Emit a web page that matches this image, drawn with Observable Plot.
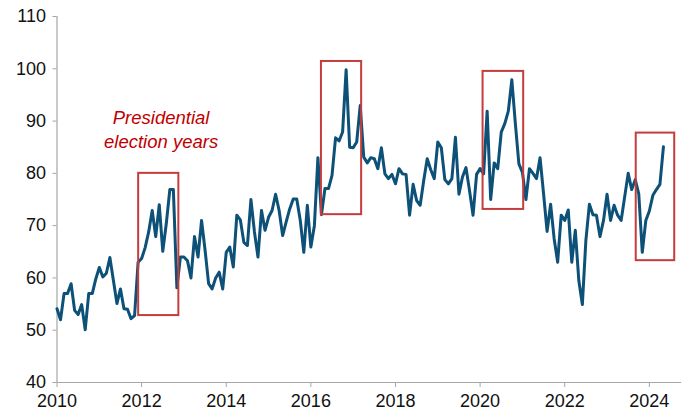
<!DOCTYPE html>
<html><head><meta charset="utf-8">
<script src="https://cdn.jsdelivr.net/npm/d3@7"></script>
<script src="https://cdn.jsdelivr.net/npm/@observablehq/plot@0.6"></script>
<style>
body{margin:0;background:#fff}
svg{display:block}
g[aria-label="x-axis tick"], g[aria-label="y-axis tick"]{stroke:#a6a6a6}
</style>
</head><body><div id="chart"></div>
<script>
const startYear = 2010;
const values = [
54.1,52,57,57,58.9,53.8,53,54.9,50.1,57,57,59.8,
62,60.2,60.9,63.9,59.5,55.1,57.9,54.1,54,52.2,52.8,63,
63.7,65.8,68.8,72.9,67.9,74,65.1,70.4,76.9,76.9,58.1,64,
64,63.3,60,67.9,64,71,65.3,58.9,57.9,60,61.1,57.9,
64.9,65.9,62.1,72,71.1,66.8,66.2,75,68.8,64,72.9,69.1,
71.6,72.9,76,72.9,68.1,70.7,73.2,75.1,75.1,71,64.9,73.9,
65.9,70,83,72.1,77.1,77.1,79.6,86.8,86.2,87.9,99.8,85,
84.9,86,93,83.1,82,83,82.8,80.9,84.9,79.9,79,79.8,
78,80.9,79.9,79.8,72,77.9,74.8,73.9,78.6,82.8,80.7,79,
86,84.9,78.8,78,79,86.9,76,79.3,81.1,76.7,72,79.8,
80.9,79.9,91.9,75,82,80.9,87.9,89.5,91.9,97.9,89.5,81.8,
80.2,75,80.9,80,79,83,76.1,68.9,74.1,67.5,63,72,
71,73,63,69.1,59.5,54.9,67.2,74.1,72.1,72,67.9,71,
76,71,73.9,72,71,75.5,80,76.9,78.8,76.1,64.9,71,
72.8,75.8,76.9,77.9,85.1
];
const xTicks = [2010,2012,2014,2016,2018,2020,2022,2024];
const yTicks = [40,50,60,70,80,90,100,110];
const boxStart = [2011.93, 2016.25, 2020.07, 2023.69];
const boxEnd   = [2012.88, 2017.20, 2021.03, 2024.60];
const boxLow   = [52.8, 72.1, 73.1, 63.3];
const boxHigh  = [80.0, 101.4, 99.5, 87.7];
const annotation = ["Presidential", "election years"];

const series = values.map((v, i) => ({t: startYear + i / 12, v}));
const boxes = boxStart.map((s, i) => ({x1: s, x2: boxEnd[i], y1: boxLow[i], y2: boxHigh[i]}));

const chart = Plot.plot({
  width: 681, height: 417,
  marginLeft: 56.5, marginRight: 0, marginTop: 16, marginBottom: 35,
  style: {fontFamily: "'Liberation Sans', Arial, sans-serif", fontSize: "18px", color: "#111", background: "#fff"},
  x: {domain: [2010, 2024.76], label: null},
  y: {domain: [40, 110], label: null},
  marks: [
    Plot.axisX({ticks: xTicks, tickFormat: d => String(d), tickSize: 5, tickPadding: 7, stroke: "#a6a6a6", fill: "#111", fontSize: 18, label: null}),
    Plot.axisY({ticks: yTicks, tickSize: 4, tickPadding: 7, stroke: "#a6a6a6", fill: "#111", fontSize: 18, label: null}),
    Plot.ruleY([40], {stroke: "#a6a6a6", strokeWidth: 1.2}),
    Plot.ruleX([2010], {stroke: "#a6a6a6", strokeWidth: 1.2}),
    Plot.lineY(series, {x: "t", y: "v", stroke: "#0d5078", strokeWidth: 3, strokeLinejoin: "round"}),
    Plot.rect(boxes, {x1: "x1", x2: "x2", y1: "y1", y2: "y2", fill: "none", stroke: "#c43c3c", strokeWidth: 2}),
    Plot.text([annotation.join("\n")], {x: 2012.46, y: 88.6, fill: "#c00000", fontSize: 18.5, fontStyle: "italic", lineHeight: 1.3, textAnchor: "middle"})
  ]
});
document.getElementById("chart").appendChild(chart);
</script>
</body></html>
